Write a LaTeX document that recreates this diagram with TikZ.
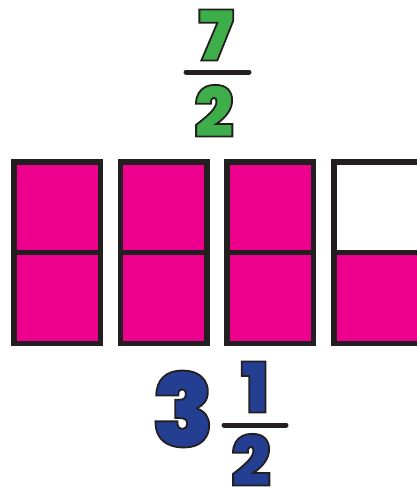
\documentclass[tikz,border=0pt]{standalone}
\usepackage{fontspec}
\newfontfamily\numfont{Poppins}[UprightFont=* Black]
\definecolor{pinkfill}{HTML}{EC008C}
\definecolor{edge}{HTML}{231F20}
\definecolor{numgreen}{HTML}{3DAE49}
\definecolor{numblue}{HTML}{243E92}
\tikzset{
  cellbox/.style={draw=edge, line width=5.5pt},
  bar/.style={draw=edge, line width=5pt, line cap=round},
  digit/.style={inner sep=0pt, anchor=center},
}
\newcommand{\outl}[2]{{\color{#1}\special{pdf:literal direct 2 Tr 1.8 w 0.137 0.122 0.125 RG}#2\special{pdf:literal direct 0 Tr}}}
\begin{document}
\begin{tikzpicture}[x=1pt,y=-1pt]
\useasboundingbox (0,0) rectangle (417,488);
% top fraction
\node[digit, font=\numfont\fontsize{70}{70}\selectfont] (seven) at (216,35) {\outl{numgreen}{7}};
\coordinate (tbl) at (186,72);
\coordinate (tbr) at (249,72);
\draw[bar] (tbl) -- (tbr);
\node[digit, font=\numfont\fontsize{70}{70}\selectfont] (two) at (214,111) {\outl{numgreen}{2}};
% boxes
\foreach \i/\topc in {0/pinkfill,1/pinkfill,2/pinkfill,3/white}{
  \pgfmathsetmacro{\L}{11+106.7*\i}
  \pgfmathsetmacro{\R}{\L+92}
  \fill[\topc] (\L+2.75,161.75) rectangle (\R-2.75,252.5);
  \fill[pinkfill] (\L+2.75,252.5) rectangle (\R-2.75,343.25);
  \draw[cellbox] (\L+2.75,161.75) rectangle (\R-2.75,343.25);
  \draw[cellbox] (\L+2.75,252.5) -- (\R-2.75,252.5);
}
% mixed number
\node[digit, font=\numfont\fontsize{102}{102}\selectfont] (three) at (183,409) {\outl{numblue}{3}};
\node[digit, font=\numfont\fontsize{70}{70}\selectfont] (one) at (255,387) {\outl{numblue}{1}};
\coordinate (bbl) at (224,425);
\coordinate (bbr) at (286,425);
\draw[bar] (bbl) -- (bbr);
\node[digit, font=\numfont\fontsize{70}{70}\selectfont] (twob) at (251,460) {\outl{numblue}{2}};
\end{tikzpicture}
\end{document}
